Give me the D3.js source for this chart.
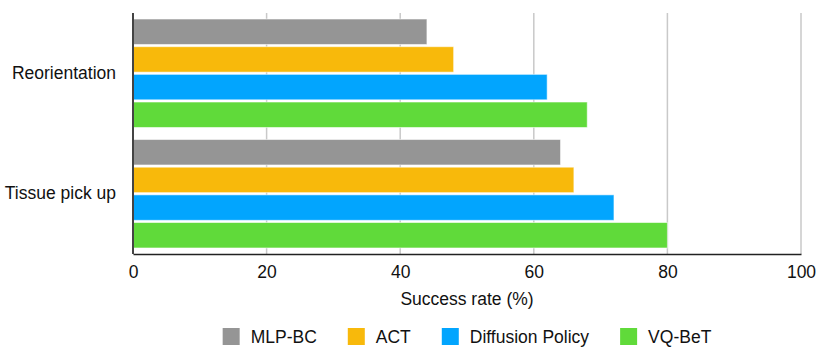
<!DOCTYPE html>
<html>
<head>
<meta charset="utf-8">
<script src="https://cdn.jsdelivr.net/npm/d3@7"></script>
<style>
  html, body { margin: 0; padding: 0; background: #fff; }
  svg { display: block; font-family: "Liberation Sans", Arial, Helvetica, sans-serif; }
</style>
</head>
<body>
<svg id="chart" width="831" height="355"></svg>
<script>
const categories = ["Reorientation", "Tissue pick up"];
const seriesNames = ["MLP-BC", "ACT", "Diffusion Policy", "VQ-BeT"];
const mlpBC = [44, 64];
const act = [48, 66];
const diffusionPolicy = [62, 72];
const vqBeT = [68, 80];
const xTicks = [0, 20, 40, 60, 80, 100];
const xTitle = "Success rate (%)";
const colors = ["#959595", "#f8b90b", "#02a5fe", "#60da3a"];

const seriesValues = [mlpBC, act, diffusionPolicy, vqBeT];

const svg = d3.select("#chart");
const margin = { left: 133, right: 30, top: 13, bottom: 101 };
const W = 831, H = 355;
const FS = 17.5;
const x = d3.scaleLinear().domain([0, 100]).range([margin.left, W - margin.right]);
const y0 = d3.scaleBand().domain(categories).range([margin.top, H - margin.bottom])
  .paddingInner(0.1).paddingOuter(0.05);
const y1 = d3.scaleBand().domain(seriesNames).range([0, y0.bandwidth()]).paddingInner(0.08);
const color = d3.scaleOrdinal().domain(seriesNames).range(colors);

// grid lines
svg.append("g").selectAll("line").data(xTicks.filter(d => d > 0)).join("line")
  .attr("x1", d => x(d)).attr("x2", d => x(d))
  .attr("y1", margin.top).attr("y2", H - margin.bottom)
  .attr("stroke", "#c9c9c9").attr("stroke-width", 1.5);

// bars
const groups = svg.append("g").selectAll("g").data(categories).join("g")
  .attr("transform", c => `translate(0,${y0(c)})`);
groups.selectAll("rect")
  .data((c, ci) => seriesNames.map((s, si) => ({ s, v: seriesValues[si][ci] })))
  .join("rect")
  .attr("x", x(0))
  .attr("y", d => y1(d.s))
  .attr("width", d => x(d.v) - x(0))
  .attr("height", y1.bandwidth())
  .attr("fill", d => color(d.s))
  .attr("stroke", "rgba(255,255,255,0.55)")
  .attr("stroke-width", 1);

// x axis
const xAxis = d3.axisBottom(x).tickValues(xTicks).tickSize(0).tickPadding(12).tickFormat(d3.format("d"));
const gx = svg.append("g").attr("transform", `translate(0,${H - margin.bottom})`).call(xAxis);
gx.select(".domain").attr("stroke", "#222").attr("stroke-width", 1.5);
gx.selectAll("text").attr("font-size", FS).attr("fill", "#111")
  .attr("font-family", "'Liberation Sans', Arial, sans-serif");

// y axis
const yAxis = d3.axisLeft(y0).tickSize(0).tickPadding(17);
const gy = svg.append("g").attr("transform", `translate(${x(0)},0)`).call(yAxis);
gy.select(".domain").attr("stroke", "#444").attr("stroke-width", 2)
  .attr("d", `M0,${margin.top}V${H - margin.bottom}`);
gy.selectAll("text").attr("font-size", FS).attr("fill", "#111")
  .attr("font-family", "'Liberation Sans', Arial, sans-serif");

// axis title
svg.append("text")
  .attr("x", (x(0) + x(100)) / 2).attr("y", 305)
  .attr("text-anchor", "middle").attr("font-size", FS).attr("fill", "#111")
  .text(xTitle);

// legend
const legend = svg.append("g");
const sq = 17, gapText = 11, gapItem = 31;
let cx = 0;
seriesNames.forEach((s, i) => {
  const g = legend.append("g");
  g.append("rect").attr("x", 0).attr("y", -sq / 2).attr("width", sq).attr("height", sq)
    .attr("fill", colors[i]);
  const t = g.append("text").attr("x", sq + gapText).attr("y", 0).attr("dy", "0.35em")
    .attr("font-size", FS).attr("fill", "#111").text(s);
  const w = sq + gapText + t.node().getComputedTextLength();
  g.attr("transform", `translate(${cx},0)`);
  cx += w + gapItem;
});
const totalW = cx - gapItem;
legend.attr("transform", `translate(${(x(0) + x(100)) / 2 - totalW / 2},336.5)`);
</script>
</body>
</html>
